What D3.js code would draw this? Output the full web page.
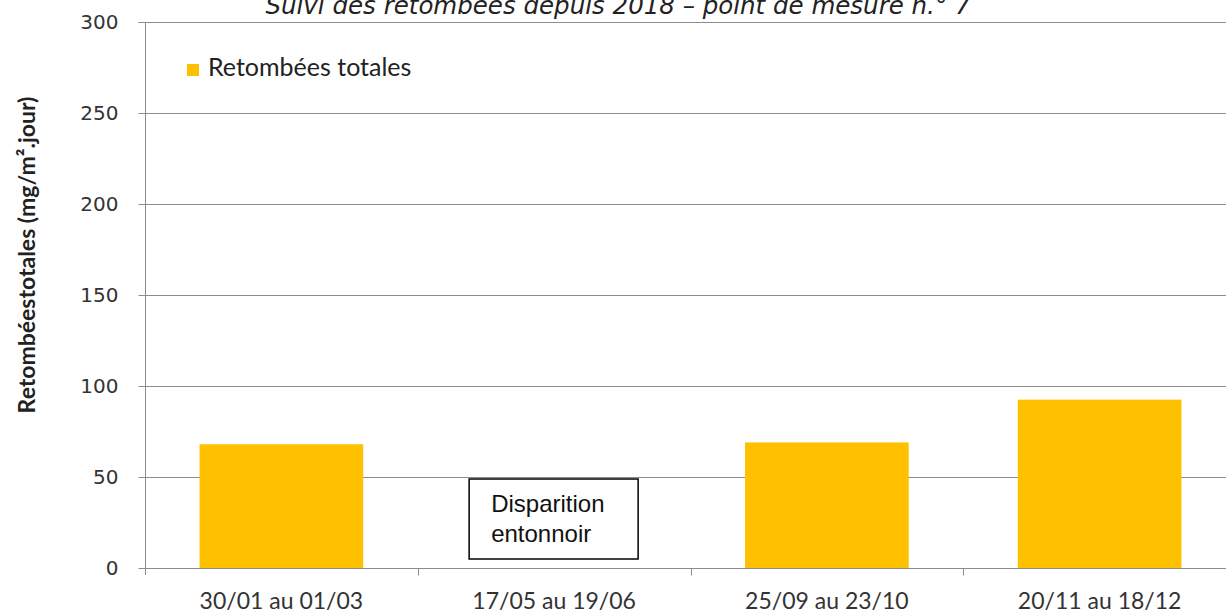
<!DOCTYPE html>
<html>
<head>
<meta charset="utf-8">
<script src="https://cdn.jsdelivr.net/npm/d3@7"></script>
<style>
  html, body { margin: 0; padding: 0; background: #fff; }
  svg { display: block; }
</style>
</head>
<body>
<svg id="chart" width="1226" height="615"></svg>
<script>
// Sampling periods and total deposition (mg/m².jour); null = no measurement
const periods = ["30/01 au 01/03", "17/05 au 19/06", "25/09 au 23/10", "20/11 au 18/12"];
const totals = [68, null, 69, 92.5];
const yTicks = [0, 50, 100, 150, 200, 250, 300];
const seriesName = "Retombées totales";
const titleText = "Suivi des retombées depuis 2018 – point de mesure n.° 7";
const yTitle = "Retombéestotales (mg/m².jour)";
const noteLines = ["Disparition", "entonnoir"];

const svg = d3.select("#chart");
const plotLeft = 145, plotRight = 1236, plotTop = 22, plotBottom = 568;

const x = d3.scaleBand().domain(periods).range([plotLeft, plotRight])
  .paddingInner(0.4).paddingOuter(0.2);
const y = d3.scaleLinear().domain([0, 300]).range([plotBottom, plotTop]);

// Title (partly cut off by the top edge)
svg.append("text")
  .attr("x", 618).attr("y", 14)
  .attr("text-anchor", "middle")
  .style("font-family", "DejaVu Sans, Verdana, sans-serif")
  .style("font-style", "italic")
  .style("font-size", "24.5px")
  .style("fill", "#222")
  .text(titleText);

// Horizontal gridlines
svg.append("g").selectAll("line")
  .data(yTicks.filter(d => d > 0))
  .join("line")
  .attr("x1", plotLeft).attr("x2", 1226)
  .attr("y1", d => Math.round(y(d)) + 0.5).attr("y2", d => Math.round(y(d)) + 0.5)
  .attr("stroke", "#8c8c8c").attr("stroke-width", 1);

// Bars
svg.append("g").selectAll("rect")
  .data(periods.map((p, i) => ({ p, v: totals[i] })).filter(d => d.v !== null))
  .join("rect")
  .attr("x", d => x(d.p))
  .attr("width", x.bandwidth())
  .attr("y", d => y(d.v))
  .attr("height", d => y(0) - y(d.v))
  .attr("fill", "#FFC000");

// Y axis
const yAxis = svg.append("g")
  .attr("transform", `translate(${plotLeft + 0.5},0)`)
  .call(d3.axisLeft(y).tickValues(yTicks).tickSize(7).tickPadding(20));
yAxis.select(".domain").attr("stroke", "#8c8c8c").attr("d", `M-7,${plotTop + 0.5}H0V${plotBottom + 7}`);
yAxis.selectAll(".tick line").attr("stroke", "#8c8c8c");
yAxis.selectAll(".tick text")
  .style("font-family", "DejaVu Sans, Verdana, sans-serif")
  .style("font-size", "20px")
  .style("fill", "#333");

// X axis
const xAxis = svg.append("g")
  .attr("transform", `translate(0,${Math.round(y(0)) + 0.5})`)
  .call(d3.axisBottom(x).tickSize(0).tickPadding(24));
xAxis.select(".domain").attr("stroke", "#8c8c8c").attr("d", `M${plotLeft},0H1226`);
xAxis.selectAll(".tick text")
  .style("font-family", "Lato, 'Open Sans', sans-serif")
  .style("font-size", "23px")
  .style("fill", "#333");
// Category separators
const step = x.step();
const seps = periods.slice(1).map(p => x(p) - x.paddingInner() * step / 2);
xAxis.append("g").selectAll("line")
  .data(seps)
  .join("line")
  .attr("x1", d => Math.round(d) + 0.5).attr("x2", d => Math.round(d) + 0.5)
  .attr("y1", 0).attr("y2", 7)
  .attr("stroke", "#8c8c8c");

// Y axis title
svg.append("text")
  .attr("transform", `translate(35,255) rotate(-90)`)
  .attr("text-anchor", "middle")
  .style("font-family", "Lato, 'Open Sans', sans-serif")
  .style("font-weight", "bold")
  .style("font-size", "23px")
  .style("fill", "#222")
  .text(yTitle);

// Legend
const lg = svg.append("g").attr("transform", "translate(187,64)");
lg.append("rect").attr("width", 12).attr("height", 12).attr("fill", "#FFC000");
lg.append("text").attr("x", 21).attr("y", 12)
  .style("font-family", "Lato, 'Open Sans', sans-serif")
  .style("font-size", "25px")
  .style("fill", "#222")
  .text(seriesName);

// Note for the missing period
const cx = x(periods[1]) + x.bandwidth() / 2;
const note = svg.append("g");
note.append("rect")
  .attr("x", cx - 85).attr("y", 479)
  .attr("width", 169).attr("height", 80)
  .attr("fill", "#fff").attr("stroke", "#000").attr("stroke-width", 1.5);
note.selectAll("text")
  .data(noteLines)
  .join("text")
  .attr("x", cx - 63)
  .attr("y", (d, i) => 512 + i * 30)
  .style("font-family", "Liberation Sans, Arial, sans-serif")
  .style("font-size", "24px")
  .style("fill", "#111")
  .text(d => d);
</script>
</body>
</html>
